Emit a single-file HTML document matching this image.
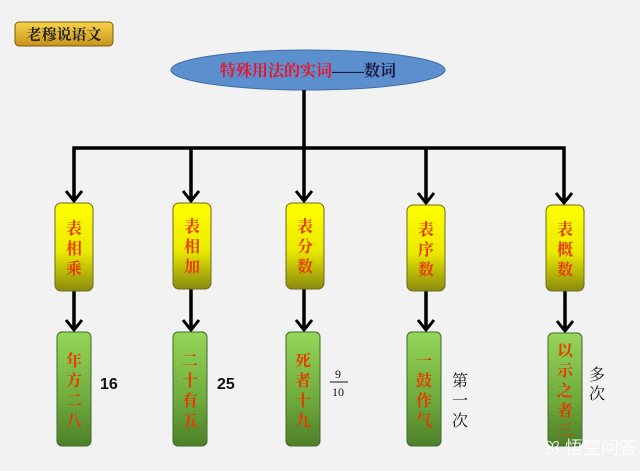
<!DOCTYPE html>
<html><head><meta charset="utf-8"><style>
body{margin:0;background:#f2f2f2;}
svg{display:block;}
.cn{font-family:"Liberation Serif","Noto Serif CJK SC","Noto Sans CJK SC",serif;}
</style></head><body>
<svg width="640" height="471" viewBox="0 0 640 471" xmlns="http://www.w3.org/2000/svg">
<defs>
<linearGradient id="gold" x1="0" y1="0" x2="0" y2="1"><stop offset="0" stop-color="#f7d44a"/><stop offset="1" stop-color="#c9921a"/></linearGradient>
<linearGradient id="yel" x1="0" y1="0" x2="0" y2="1"><stop offset="0" stop-color="#ffff00"/><stop offset="0.55" stop-color="#eaea00"/><stop offset="1" stop-color="#8a8a10"/></linearGradient>
<linearGradient id="grn" x1="0" y1="0" x2="0" y2="1"><stop offset="0" stop-color="#96d65a"/><stop offset="0.6" stop-color="#6eaa3c"/><stop offset="1" stop-color="#4d7f2a"/></linearGradient>
</defs>
<rect x="15" y="22" width="98" height="24" rx="4" fill="url(#gold)" stroke="#7a5a10" stroke-width="1"/>
<text x="64" y="39.5" text-anchor="middle" class="cn" font-size="15" font-weight="bold" fill="#222">老穆说语文</text>
<ellipse cx="308" cy="70" rx="137" ry="20" fill="#5b8fce" stroke="#3f6ea8" stroke-width="1"/>
<text x="220" y="76" class="cn" font-size="16" font-weight="bold"><tspan fill="#e8142a">特殊用法的实词</tspan><tspan fill="#1a1a40">——数词</tspan></text>
<g stroke="#000" stroke-width="3.5" fill="none">
<line x1="304" y1="90" x2="304" y2="201"/>
<polyline points="74,201 74,148 564,148 564,201"/>
<line x1="191" y1="148" x2="191" y2="201"/>
<line x1="426" y1="148" x2="426" y2="201"/>
<g stroke-width="3">
<polyline points="66,191 74,201 82,191"/><polyline points="183,191 191,201 199,191"/><polyline points="296,191 304,201 312,191"/><polyline points="418,193 426,203 434,193"/><polyline points="556,193 564,203 572,193"/>
</g>
<line x1="74" y1="291" x2="74" y2="330"/><line x1="191" y1="289" x2="191" y2="330"/><line x1="304" y1="289" x2="304" y2="330"/><line x1="426" y1="291" x2="426" y2="330"/><line x1="565" y1="291" x2="565" y2="331"/>
<g stroke-width="3">
<polyline points="66,320 74,330 82,320"/><polyline points="183,320 191,330 199,320"/><polyline points="296,320 304,330 312,320"/><polyline points="418,320 426,330 434,320"/><polyline points="557,321 565,331 573,321"/>
</g>
</g>
<g stroke="#6b6b20" stroke-width="1" fill="url(#yel)">
<rect x="55" y="203" width="38" height="88" rx="6"/><rect x="173" y="203" width="38" height="86" rx="6"/><rect x="286" y="203" width="38" height="86" rx="6"/><rect x="407" y="205" width="38" height="86" rx="6"/><rect x="546" y="205" width="38" height="86" rx="6"/>
</g>
<g stroke="#3f6a25" stroke-width="1" fill="url(#grn)">
<rect x="57" y="332" width="34" height="114" rx="5"/><rect x="173" y="332" width="34" height="114" rx="5"/><rect x="286" y="332" width="34" height="114" rx="5"/><rect x="407" y="332" width="34" height="114" rx="5"/><rect x="548" y="333" width="34" height="113" rx="5"/>
</g>
<g class="cn" font-size="16" font-weight="bold" fill="#e83a00" text-anchor="middle">
<text x="74" y="234">表</text><text x="74" y="254">相</text><text x="74" y="274">乘</text>
<text x="192" y="232">表</text><text x="192" y="252">相</text><text x="192" y="272">加</text>
<text x="305" y="232">表</text><text x="305" y="252">分</text><text x="305" y="272">数</text>
<text x="426" y="235">表</text><text x="426" y="255">序</text><text x="426" y="275">数</text>
<text x="565" y="235">表</text><text x="565" y="255">概</text><text x="565" y="275">数</text>
<text x="74" y="366">年</text><text x="74" y="386">方</text><text x="74" y="406">二</text><text x="74" y="426">八</text>
<text x="190" y="366">二</text><text x="190" y="386">十</text><text x="190" y="406">有</text><text x="190" y="426">五</text>
<text x="303" y="366">死</text><text x="303" y="386">者</text><text x="303" y="406">十</text><text x="303" y="426">九</text>
<text x="424" y="366">一</text><text x="424" y="386">鼓</text><text x="424" y="406">作</text><text x="424" y="426">气</text>
<text x="565" y="356">以</text><text x="565" y="376">示</text><text x="565" y="396">之</text><text x="565" y="416">者</text><text x="565" y="436">三</text>
</g>
<g font-family="Liberation Sans,sans-serif" font-weight="bold" font-size="16" fill="#111">
<text x="100" y="389">16</text><text x="217" y="389">25</text>
</g>
<g class="cn" fill="#111" text-anchor="middle">
<text x="338" y="378" font-size="12">9</text>
<line x1="330" y1="382" x2="348" y2="382" stroke="#111" stroke-width="1"/>
<text x="338" y="396" font-size="12">10</text>
<text x="460" y="386" font-size="16">第</text><text x="460" y="406" font-size="16">一</text><text x="460" y="426" font-size="16">次</text>
<text x="597" y="380" font-size="16">多</text><text x="597" y="399" font-size="16">次</text>
</g>
<text x="545" y="454" font-family="Liberation Sans,Noto Sans CJK SC,sans-serif" font-size="18" fill="#ffffff" fill-opacity="0.85">ꕤ 悟空问答</text>
</svg>
</body></html>
